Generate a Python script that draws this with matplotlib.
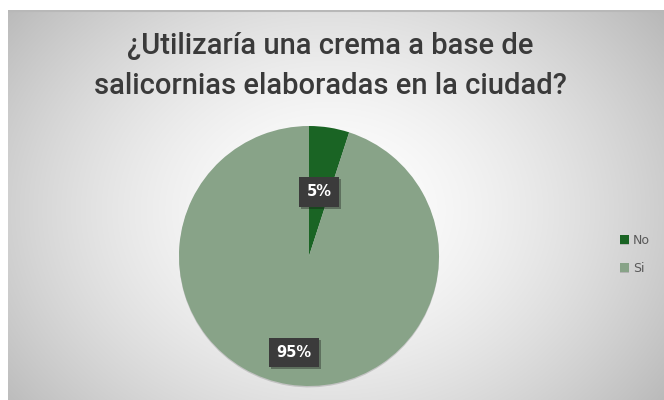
import numpy as np
import matplotlib
matplotlib.use("Agg")
import matplotlib.pyplot as plt
import matplotlib.patheffects as pe

# datos
categorias = ["No", "Si"]
porcentajes = [5, 95]
colores = ["#1a6424", "#88a388"]
titulo = "¿Utilizaría una crema a base de\nsalicornias elaboradas en la ciudad?"

W, H = 664, 400
fig = plt.figure(figsize=(W / 100, H / 100), dpi=100)
fig.patch.set_facecolor("white")

# fondo con degradado radial
bg = fig.add_axes([8 / W, 0, (W - 8) / W, 390 / H])
yy, xx = np.mgrid[0:390, 0:W - 8]
cx, cy = 322, 200
d = np.sqrt(((xx - cx) / 330.0) ** 2 + ((yy - cy) / 260.0) ** 2)
val = np.clip(1.0 - 0.19 * d ** 1.6, 0, 1)
bg.imshow(np.dstack([val, val, val]), aspect="auto", origin="upper")
bg.axhline(0, color="#b8b8b8", lw=1.5)
bg.set_axis_off()

# pastel
ax = fig.add_axes([(309 - 130) / W, (H - 256 - 130) / H, 260 / W, 260 / H])
wedges, _ = ax.pie(porcentajes, colors=colores, startangle=90, counterclock=False,
                   wedgeprops=dict(linewidth=0))
ax.set_xlim(-1, 1)
ax.set_ylim(-1, 1)
ax.set_aspect("equal")
for w in wedges:
    w.set_path_effects([pe.SimplePatchShadow(offset=(0, -1), shadow_rgbFace="#000000", alpha=0.15),
                        pe.Normal()])

radios = [0.5, 0.75]
for w, p, r in zip(wedges, porcentajes, radios):
    ang = np.deg2rad((w.theta1 + w.theta2) / 2)
    t = ax.text(r * np.cos(ang), r * np.sin(ang), f"{p}%", ha="center", va="center",
                color="white", fontsize=10.5, fontweight="bold", family="DejaVu Sans",
                bbox=dict(boxstyle="square,pad=0.5", fc="#3b3b3b", ec="none"))
    t.get_bbox_patch().set_path_effects([
        pe.SimplePatchShadow(offset=(1.5, -1.5), alpha=0.35), pe.Normal()])

# leyenda
leg = fig.legend(wedges, categorias, loc="center left", bbox_to_anchor=(609 / W, 1 - 254 / H),
                 frameon=False, fontsize=9, handlelength=0.7, handleheight=0.7,
                 handletextpad=0.3, labelspacing=1.2, labelcolor="#595959")

fig.text(330 / W, 1 - 66 / H, titulo, ha="center", va="center", fontsize=21,
         color="#3a3a3a", linespacing=1.5, fontweight="medium",
         family=["Roboto", "DejaVu Sans"])

fig.savefig("out.png", dpi=100)
